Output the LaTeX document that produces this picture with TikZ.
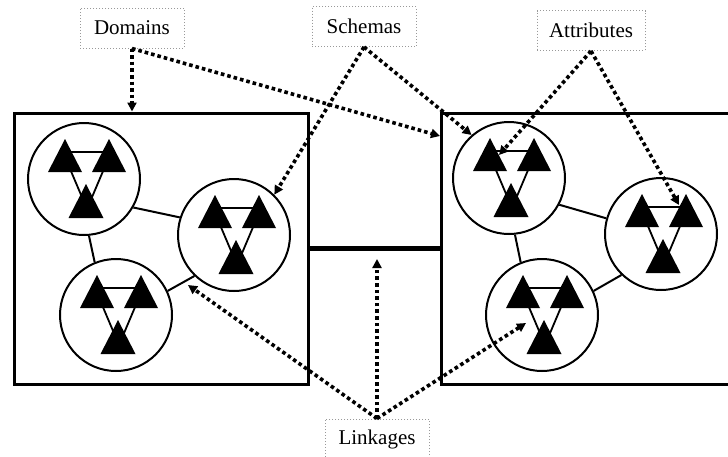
\documentclass[tikz,border=0pt]{standalone}
\usepackage{fontspec}
\setmainfont{Liberation Serif}
\usetikzlibrary{arrows.meta}
\tikzset{
  lbl/.style={draw=gray!80, densely dotted, line width=0.5pt, fill=white, minimum width=52pt, minimum height=20pt, inner xsep=6pt, font=\fontsize{10.5}{12}\selectfont},
  domainbox/.style={draw, line width=1.5pt, minimum width=147pt, minimum height=135.5pt, inner sep=0pt},
  schema/.style={draw, circle, line width=1pt, minimum size=56pt, inner sep=0pt, fill=white},
  link/.style={line width=1pt},
  bridge/.style={line width=2.5pt},
  pointer/.style={line width=1.8pt, dash pattern=on 1.8pt off 1.5pt, -{Triangle[length=4.5pt,width=4.5pt]}},
  attrs/.pic={
    \draw[line width=0.9pt] (-21,-27) -- (23,-27) (-21,-22) -- (1,30) -- (23,-22);
    \fill (-21,-40) -- (-4,-7) -- (-38,-7) -- cycle;
    \fill (23,-40) -- (40,-7) -- (6,-7) -- cycle;
    \fill (0,5) -- (17.5,39) -- (-17.5,39) -- cycle;
  }
}
\begin{document}
\begin{tikzpicture}[x=0.5pt, y=-0.5pt]
\useasboundingbox (0,0) rectangle (728,456);
\clip (0,0) rectangle (728,456);
% domains
\node[domainbox] (L) at (161,248.5) {};
\node[domainbox] (R) at (588,248.5) {};
\draw[bridge] (L) -- (R);
% schemas
\node[schema] (c1) at (84,179) {};
\node[schema] (c2) at (234,235) {};
\node[schema] (c3) at (116,315) {};
\node[schema] (c4) at (509,178) {};
\node[schema] (c5) at (661,234) {};
\node[schema] (c6) at (542,315) {};
\draw[link] (c1.-30) -- (c2.162) (c1.-85) -- (c3.112) (c3.25) -- (c2.226);
\draw[link] (c4.-28) -- (c5.164) (c4.-84) -- (c6.112) (c6.25) -- (c5.226);
% attributes
\foreach \s in {c1,c2,c3,c4,c5,c6}
  \pic at ([xshift=1pt]\s) {attrs};
% labels
\node[lbl] (dom) at (132,28) {Domains};
\node[lbl] (sch) at (364,26.5) {Schemas};
\node[lbl] (att) at (591,30.5) {Attributes};
\node[lbl] (lnk) at (377,439) {Linkages};
\coordinate (rin) at (440,136);
\coordinate (ta) at (499,155);
\coordinate (tb) at (679,205);
\coordinate (bt) at (377,259);
\coordinate (lk) at (188,285);
\coordinate (ct) at (526,323);
% pointers
\draw[pointer] (dom.south) -- (dom.south |- L.north);
\draw[pointer] (dom.south) -- (rin);
\draw[pointer] (sch.south) -- (c2.45);
\draw[pointer] (sch.south) -- (c4.131);
\draw[pointer] (att.south) -- (ta);
\draw[pointer] (att.south) -- (tb);
\draw[pointer] (lnk.north) -- (bt);
\draw[pointer] (lnk.north) -- (lk);
\draw[pointer] (lnk.north) -- (ct);
\end{tikzpicture}
\end{document}
